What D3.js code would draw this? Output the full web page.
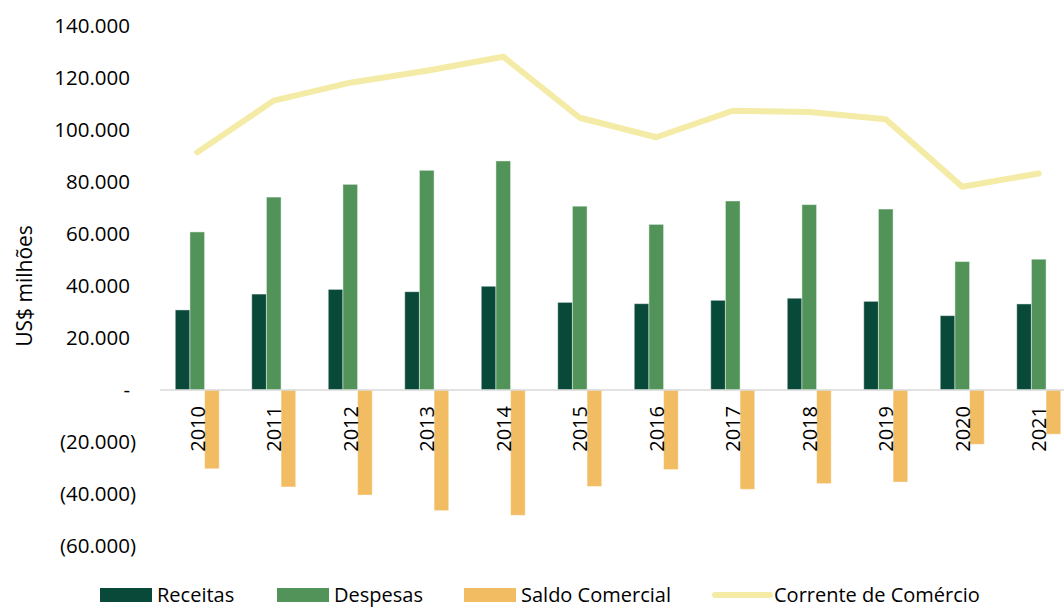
<!DOCTYPE html>
<html>
<head>
<meta charset="utf-8">
<script src="https://cdn.jsdelivr.net/npm/d3@7"></script>
<style>
  body { margin: 0; background: #fff; }
  svg { display: block; font-family: "Open Sans", sans-serif; }
</style>
</head>
<body>
<div id="chart"></div>
<script>
// Chart data (US$ milhões)
const years = ["2010", "2011", "2012", "2013", "2014", "2015", "2016", "2017", "2018", "2019", "2020", "2021"];
const receitas = [30800, 36900, 38700, 37800, 39900, 33700, 33200, 34500, 35300, 34100, 28600, 33100];
const despesas = [60800, 74200, 79100, 84500, 88100, 70700, 63700, 72700, 71300, 69600, 49400, 50300];
const saldo = [-30300, -37300, -40400, -46400, -48200, -37100, -30600, -38200, -36000, -35400, -20900, -17000];
const corrente = [91400, 111300, 118200, 122800, 128200, 104700, 97200, 107400, 106900, 104100, 78200, 83300];
const yTicks = [-60000, -40000, -20000, 0, 20000, 40000, 60000, 80000, 100000, 120000, 140000];

const W = 1064, H = 608;

const svg = d3.select("#chart")
    .append("svg")
    .attr("width", W)
    .attr("height", H);

const barSeries = [
    { name: "Receitas", values: receitas, color: "#08493A" },
    { name: "Despesas", values: despesas, color: "#529359" },
    { name: "Saldo Comercial", values: saldo, color: "#F2BC63" }
];
const lineColor = "#F4EBA6";

// Scales
const x0 = d3.scaleBand()
    .domain(years)
    .range([159, 1077])
    .paddingInner(0.425)
    .paddingOuter(0.2125);

const x1 = d3.scaleBand()
    .domain(barSeries.map(s => s.name))
    .range([0, x0.bandwidth()]);

const y = d3.scaleLinear()
    .domain([-60000, 140000])
    .range([546, 26]);

// number format like pt-BR accounting
const locale = d3.formatLocale({ decimal: ",", thousands: ".", grouping: [3], currency: ["", ""] });
const fmt = locale.format(",.0f");

// Y axis labels (digits aligned, parentheses hang to the right)
svg.append("g").selectAll("text")
    .data(yTicks)
    .enter()
    .append("text")
    .attr("x", d => d < 0 ? 136 : 130)
    .attr("y", d => y(d))
    .attr("dy", "0.35em")
    .attr("text-anchor", "end")
    .attr("fill", "#000")
    .style("font-size", "20.5px")
    .text(d => d === 0 ? "-" : d < 0 ? `(${fmt(-d)})` : fmt(d));

// Y axis title
svg.append("text")
    .attr("transform", `translate(24, ${y(40000)}) rotate(-90)`)
    .attr("text-anchor", "middle")
    .attr("dominant-baseline", "central")
    .attr("fill", "#000")
    .style("font-size", "21px")
    .text("US$ milhões");

// Bars
barSeries.forEach(s => {
    svg.append("g").selectAll("rect")
        .data(years.map((yr, i) => ({ yr, v: s.values[i] })))
        .enter()
        .append("rect")
        .attr("x", d => x0(d.yr) + x1(s.name))
        .attr("y", d => y(Math.max(0, d.v)))
        .attr("width", x1.bandwidth())
        .attr("height", d => Math.abs(y(d.v) - y(0)))
        .attr("fill", s.color)
        .attr("stroke", "rgba(255,255,255,0.45)")
        .attr("stroke-width", 1);
});

// Zero line
svg.append("line")
    .attr("x1", 160)
    .attr("x2", W)
    .attr("y1", y(0))
    .attr("y2", y(0))
    .attr("stroke", "#D9D9D9")
    .attr("stroke-width", 1.5);

// Category labels (rotated)
svg.append("g").selectAll("text")
    .data(years)
    .enter()
    .append("text")
    .attr("transform", d => `translate(${x0(d) + x0.bandwidth() / 2}, 406) rotate(-90)`)
    .attr("text-anchor", "end")
    .attr("dominant-baseline", "central")
    .attr("fill", "#000")
    .style("font-size", "20px")
    .text(d => d);

// Corrente de Comércio line
const line = d3.line()
    .x((d, i) => x0(years[i]) + x0.bandwidth() / 2)
    .y(d => y(d));

svg.append("path")
    .datum(corrente)
    .attr("d", line)
    .attr("fill", "none")
    .attr("stroke", lineColor)
    .attr("stroke-width", 6)
    .attr("stroke-linecap", "round")
    .attr("stroke-linejoin", "round");

// Legend
const legendY = 595;
const legend = svg.append("g");
const legendItems = [
    { name: "Receitas", color: barSeries[0].color, x: 100, type: "rect" },
    { name: "Despesas", color: barSeries[1].color, x: 277, type: "rect" },
    { name: "Saldo Comercial", color: barSeries[2].color, x: 464, type: "rect" },
    { name: "Corrente de Comércio", color: lineColor, x: 715, type: "line" }
];
legendItems.forEach(item => {
    if (item.type === "rect") {
        legend.append("rect")
            .attr("x", item.x)
            .attr("y", legendY - 7)
            .attr("width", 52)
            .attr("height", 14)
            .attr("fill", item.color);
    } else {
        legend.append("line")
            .attr("x1", item.x)
            .attr("x2", item.x + 55)
            .attr("y1", legendY)
            .attr("y2", legendY)
            .attr("stroke", item.color)
            .attr("stroke-width", 6)
            .attr("stroke-linecap", "round");
    }
    legend.append("text")
        .attr("x", item.x + (item.type === "rect" ? 57 : 59))
        .attr("y", legendY)
        .attr("dy", "0.35em")
        .attr("fill", "#000")
        .style("font-size", "20px")
        .text(item.name);
});
</script>
</body>
</html>
